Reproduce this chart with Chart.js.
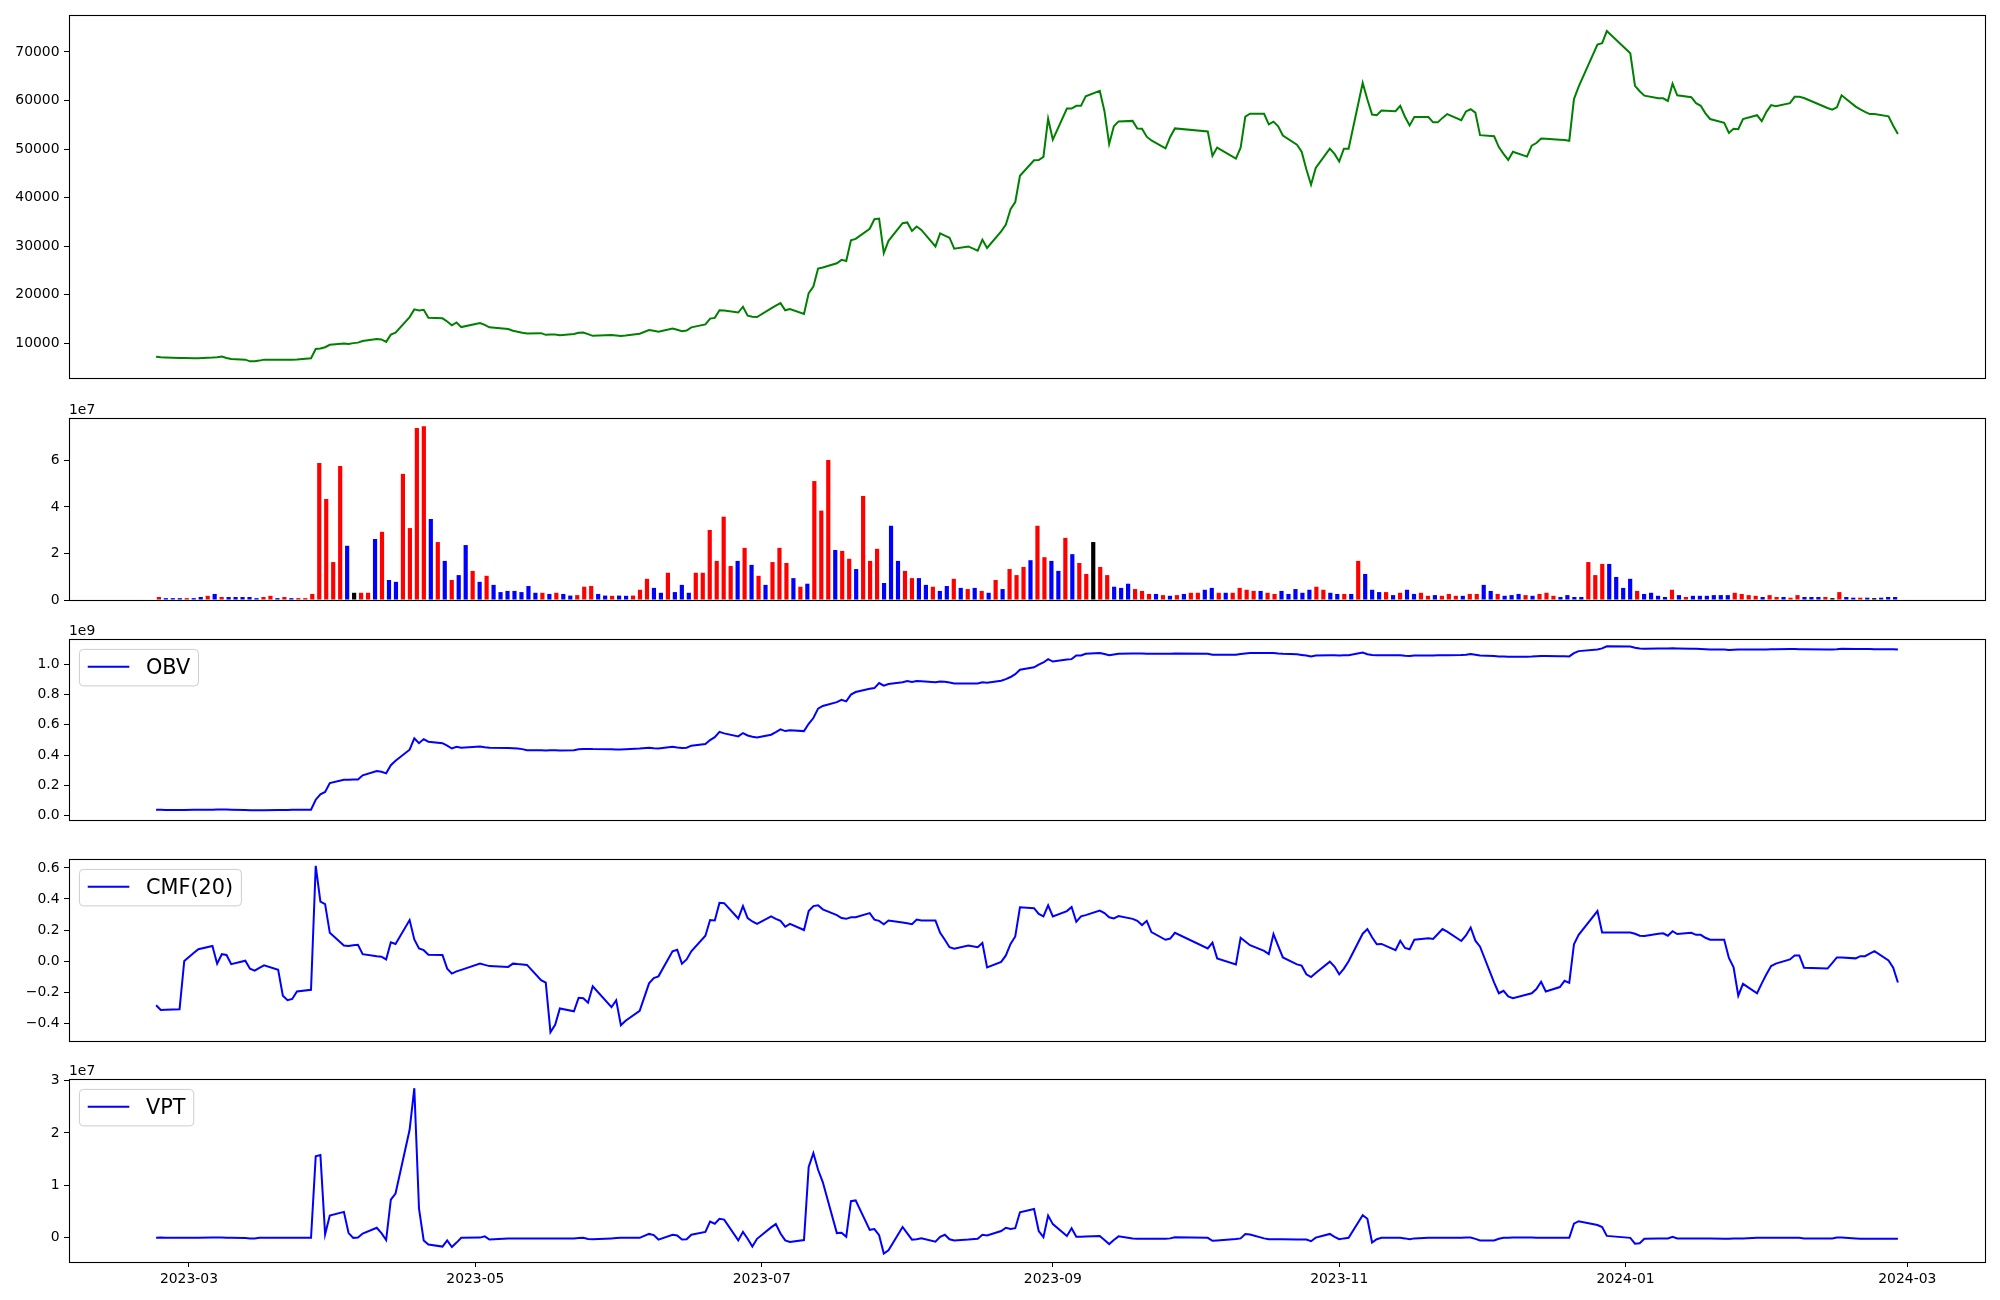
<!DOCTYPE html>
<html>
<head>
<meta charset="utf-8">
<script src="https://cdn.jsdelivr.net/npm/chart.js@4.4.1/dist/chart.umd.min.js"></script>
<style>
  html, body { margin: 0; padding: 0; background: #fff; }
  #wrap { position: relative; width: 2000px; height: 1300px; overflow: hidden; }
  #wrap canvas { position: absolute; left: 0; }
</style>
</head>
<body>
<div id="wrap">
  <canvas id="price"></canvas>
  <canvas id="volume"></canvas>
  <canvas id="obv"></canvas>
  <canvas id="cmf"></canvas>
  <canvas id="vpt"></canvas>
</div>
<script>
// trading days
const dates = [
  '2023-02-22','2023-02-23','2023-02-24','2023-02-27','2023-02-28',
  '2023-03-02','2023-03-03','2023-03-06','2023-03-07','2023-03-08','2023-03-09','2023-03-10','2023-03-13','2023-03-14','2023-03-15','2023-03-16','2023-03-17','2023-03-20','2023-03-21','2023-03-22','2023-03-23','2023-03-24','2023-03-27','2023-03-28','2023-03-29','2023-03-30','2023-03-31',
  '2023-04-03','2023-04-04','2023-04-05','2023-04-06','2023-04-07','2023-04-10','2023-04-11','2023-04-12','2023-04-13','2023-04-14','2023-04-17','2023-04-18','2023-04-19','2023-04-20','2023-04-21','2023-04-24','2023-04-25','2023-04-26','2023-04-27','2023-04-28',
  '2023-05-02','2023-05-03','2023-05-04','2023-05-08','2023-05-09','2023-05-10','2023-05-11','2023-05-12','2023-05-15','2023-05-16','2023-05-17','2023-05-18','2023-05-19','2023-05-22','2023-05-23','2023-05-24','2023-05-25','2023-05-26','2023-05-30','2023-05-31',
  '2023-06-01','2023-06-02','2023-06-05','2023-06-07','2023-06-08','2023-06-09','2023-06-12','2023-06-13','2023-06-14','2023-06-15','2023-06-16','2023-06-19','2023-06-20','2023-06-21','2023-06-22','2023-06-23','2023-06-26','2023-06-27','2023-06-28','2023-06-29','2023-06-30',
  '2023-07-03','2023-07-04','2023-07-05','2023-07-06','2023-07-07','2023-07-10','2023-07-11','2023-07-12','2023-07-13','2023-07-14','2023-07-17','2023-07-18','2023-07-19','2023-07-20','2023-07-21','2023-07-24','2023-07-25','2023-07-26','2023-07-27','2023-07-28','2023-07-31',
  '2023-08-01','2023-08-02','2023-08-03','2023-08-04','2023-08-07','2023-08-08','2023-08-09','2023-08-10','2023-08-11','2023-08-14','2023-08-16','2023-08-17','2023-08-18','2023-08-21','2023-08-22','2023-08-23','2023-08-24','2023-08-25','2023-08-28','2023-08-29','2023-08-30','2023-08-31',
  '2023-09-01','2023-09-04','2023-09-05','2023-09-06','2023-09-07','2023-09-08','2023-09-11','2023-09-12','2023-09-13','2023-09-14','2023-09-15','2023-09-18','2023-09-19','2023-09-20','2023-09-21','2023-09-22','2023-09-25','2023-09-26','2023-09-27',
  '2023-10-04','2023-10-05','2023-10-06','2023-10-10','2023-10-11','2023-10-12','2023-10-13','2023-10-16','2023-10-17','2023-10-18','2023-10-19','2023-10-20','2023-10-23','2023-10-24','2023-10-25','2023-10-26','2023-10-27','2023-10-30','2023-10-31',
  '2023-11-01','2023-11-02','2023-11-03','2023-11-06','2023-11-07','2023-11-08','2023-11-09','2023-11-10','2023-11-13','2023-11-14','2023-11-15','2023-11-16','2023-11-17','2023-11-20','2023-11-21','2023-11-22','2023-11-23','2023-11-24','2023-11-27','2023-11-28','2023-11-29','2023-11-30',
  '2023-12-01','2023-12-04','2023-12-05','2023-12-06','2023-12-07','2023-12-08','2023-12-11','2023-12-12','2023-12-13','2023-12-14','2023-12-15','2023-12-18','2023-12-19','2023-12-20','2023-12-21','2023-12-22','2023-12-26','2023-12-27','2023-12-28',
  '2024-01-02','2024-01-03','2024-01-04','2024-01-05','2024-01-08','2024-01-09','2024-01-10','2024-01-11','2024-01-12','2024-01-15','2024-01-16','2024-01-17','2024-01-18','2024-01-19','2024-01-22','2024-01-23','2024-01-24','2024-01-25','2024-01-26','2024-01-29','2024-01-30','2024-01-31',
  '2024-02-01','2024-02-02','2024-02-05','2024-02-06','2024-02-07','2024-02-08','2024-02-13','2024-02-14','2024-02-15','2024-02-16','2024-02-19','2024-02-20','2024-02-21','2024-02-22','2024-02-23','2024-02-26','2024-02-27','2024-02-28'
];

const close = [
  7230, 7150, 7100, 6990, 6990,
  6920, 6950, 7070, 7150, 7300, 7000, 6800, 6650, 6300, 6300, 6450, 6650, 6650, 6650, 6620, 6650, 6700, 6950, 8850, 8950, 9200, 9700,
  9990, 9850, 10050, 10150, 10500, 10900, 10800, 10300, 11800, 12200, 15400, 17000, 16750, 16900, 15250, 15150, 14500, 13700, 14300, 13350,
  14200, 13800, 13300, 12950, 12600, 12400, 12200, 12050, 12100, 11750, 11800, 11800, 11650, 11950, 12200, 12250, 11900, 11550, 11700, 11600,
  11500, 11600, 12000, 12750, 12600, 12400, 13050, 12800, 12500, 12650, 13300, 13900, 15100, 15250, 16800, 16750, 16350, 17550, 15700, 15500, 15430,
  17200, 17750, 18290, 16800, 17050, 16050, 20350, 21700, 25400, 25620, 26500, 27200, 26950, 31200, 31500, 33600, 35550, 35700, 28600, 31100, 34750,
  34900, 33150, 34050, 33350, 29950, 32650, 32170, 31750, 29500, 29950, 29100, 31350, 29650, 33050, 34450, 37600, 39100, 44500, 47700, 47750, 48400, 56250,
  51950, 58350, 58350, 58900, 58900, 60850, 61990, 57800, 51050, 54700, 55700, 55800, 54250, 54180, 52550, 51780, 50150, 52500, 54250,
  53640, 48600, 50300, 48050, 50300, 56700, 57270, 57270, 55100, 55650, 54700, 52800, 50900, 49450, 45825, 42650, 46130, 50080, 49000,
  47450, 50080, 50080, 63600, 60200, 57100, 56950, 57950, 57800, 58900, 56650, 54870, 56580, 56580, 55500, 55500, 56420, 57200, 55950, 57740, 58200, 57500,
  52860, 52630, 50400, 49000, 47760, 49460, 48450, 50700, 51240, 52170, 52140, 51930, 51850, 51700, 60290, 62840, 71500, 71800, 74290,
  69720, 63000, 61910, 61000, 60440, 60440, 59900, 63460, 61060, 60680, 59440, 58900, 57350, 56190, 55420, 53330, 54180, 54100, 56190, 56960, 55730, 57660,
  59050, 58820, 59440, 60750, 60750, 60520, 58460, 58120, 58590, 61060, 58740, 58170, 57660, 57200, 57200, 56730, 54790, 53100
];

// volume in units of 1e7, bars are drawn at the row index
const volumeE7 = [
  0.13, 0.08, 0.08, 0.08, 0.08,
  0.08, 0.13, 0.18, 0.26, 0.13, 0.13, 0.13, 0.13, 0.13, 0.08, 0.13, 0.18, 0.08, 0.13, 0.08, 0.08, 0.08, 0.26, 5.89, 4.34, 1.63, 5.76,
  2.33, 0.31, 0.31, 0.31, 2.62, 2.93, 0.86, 0.78, 5.42, 3.09, 7.39, 7.47, 3.48, 2.49, 1.68, 0.86, 1.07, 2.36, 1.25, 0.78,
  1.04, 0.65, 0.34, 0.39, 0.39, 0.34, 0.60, 0.31, 0.31, 0.26, 0.31, 0.26, 0.19, 0.21, 0.57, 0.60, 0.26, 0.19, 0.18, 0.19,
  0.18, 0.19, 0.44, 0.91, 0.52, 0.31, 1.17, 0.34, 0.65, 0.31, 1.17, 1.17, 3.01, 1.68, 3.58, 1.46, 1.68, 2.24, 1.51, 1.04, 0.65,
  1.63, 2.24, 1.59, 0.94, 0.57, 0.70, 5.11, 3.84, 6.02, 2.15, 2.11, 1.77, 1.33, 4.47, 1.68, 2.20, 0.73, 3.19, 1.68, 1.25, 0.94,
  0.94, 0.65, 0.57, 0.39, 0.60, 0.91, 0.52, 0.47, 0.52, 0.39, 0.31, 0.86, 0.47, 1.33, 1.07, 1.42, 1.71, 3.19, 1.84, 1.68, 1.25, 2.67,
  1.97, 1.59, 1.12, 2.49, 1.42, 1.07, 0.57, 0.52, 0.70, 0.47, 0.39, 0.26, 0.26, 0.21, 0.18, 0.21, 0.26, 0.31, 0.31,
  0.44, 0.52, 0.31, 0.31, 0.31, 0.52, 0.44, 0.39, 0.39, 0.31, 0.26, 0.39, 0.26, 0.47, 0.31, 0.44, 0.57, 0.44, 0.31,
  0.26, 0.26, 0.26, 1.68, 1.12, 0.44, 0.34, 0.34, 0.21, 0.31, 0.44, 0.26, 0.31, 0.18, 0.21, 0.18, 0.26, 0.18, 0.18, 0.26, 0.26, 0.65,
  0.39, 0.26, 0.18, 0.21, 0.26, 0.21, 0.18, 0.26, 0.31, 0.18, 0.13, 0.21, 0.13, 0.13, 1.63, 1.07, 1.55, 1.55, 0.99,
  0.52, 0.91, 0.39, 0.26, 0.31, 0.18, 0.13, 0.44, 0.21, 0.13, 0.18, 0.18, 0.18, 0.21, 0.21, 0.21, 0.31, 0.26, 0.21, 0.18, 0.13, 0.21,
  0.13, 0.13, 0.10, 0.21, 0.13, 0.13, 0.13, 0.13, 0.08, 0.34, 0.13, 0.10, 0.10, 0.10, 0.08, 0.10, 0.13, 0.13
];

// r = up, b = down, k = unchanged
const volumeColor = [
  'r','b','b','b','r',
  'b','b','r','b','r','b','b','b','b','b','r','r','b','r','b','r','r','r','r','r','r','r',
  'b','k','r','r','b','r','b','b','r','r','r','r','b','r','b','r','b','b','r','b',
  'r','b','b','b','b','b','b','b','r','b','r','b','b','r','r','r','b','b','r','b',
  'b','r','r','r','b','b','r','b','b','b','r','r','r','r','r','r','b','r','b','r','b',
  'r','r','r','b','r','b','r','r','r','b','r','r','b','r','r','r','b','b','b','r','r',
  'b','b','r','b','b','r','b','r','b','r','b','r','b','r','r','r','b','r','r','b','b','r',
  'b','r','r','k','r','r','b','b','b','r','r','r','b','r','b','r','b','r','r',
  'b','b','r','b','r','r','r','r','b','r','r','b','b','b','b','b','r','r','b',
  'b','r','b','r','b','b','b','r','b','r','b','b','r','r','b','r','r','r','b','r','r','b',
  'b','r','b','b','b','r','b','r','r','r','b','b','b','b','r','r','r','b','b',
  'b','b','r','b','b','b','b','r','b','r','b','b','b','b','b','b','r','r','r','r','b','r',
  'r','b','r','r','b','b','b','r','k','r','b','b','r','b','k','b','b','b'
];

// OBV in units of 1e9
const obvE9 = [
  0.039, 0.039, 0.038, 0.038, 0.038,
  0.039, 0.039, 0.040, 0.041, 0.042, 0.041, 0.040, 0.038, 0.037, 0.036, 0.037, 0.037, 0.038, 0.038, 0.038, 0.039, 0.039, 0.040, 0.106, 0.141, 0.157, 0.216,
  0.237, 0.238, 0.239, 0.240, 0.267, 0.296, 0.290, 0.280, 0.334, 0.363, 0.436, 0.511, 0.479, 0.506, 0.489, 0.479, 0.463, 0.444, 0.455, 0.449,
  0.457, 0.452, 0.449, 0.447, 0.446, 0.444, 0.440, 0.432, 0.432, 0.431, 0.432, 0.432, 0.431, 0.433, 0.439, 0.441, 0.441, 0.440, 0.439, 0.438,
  0.438, 0.439, 0.444, 0.449, 0.446, 0.444, 0.455, 0.450, 0.447, 0.449, 0.463, 0.473, 0.500, 0.519, 0.554, 0.544, 0.524, 0.546, 0.530, 0.522, 0.516,
  0.535, 0.552, 0.570, 0.559, 0.565, 0.559, 0.607, 0.645, 0.707, 0.725, 0.750, 0.766, 0.755, 0.800, 0.817, 0.838, 0.843, 0.876, 0.859, 0.870, 0.881,
  0.889, 0.884, 0.889, 0.888, 0.881, 0.886, 0.884, 0.880, 0.873, 0.874, 0.873, 0.881, 0.878, 0.892, 0.902, 0.916, 0.935, 0.964, 0.980, 0.998, 1.012, 1.034,
  1.018, 1.031, 1.034, 1.058, 1.058, 1.069, 1.074, 1.068, 1.060, 1.065, 1.069, 1.071, 1.071, 1.071, 1.070, 1.070, 1.069, 1.070, 1.071,
  1.069, 1.063, 1.063, 1.063, 1.068, 1.072, 1.074, 1.074, 1.074, 1.074, 1.071, 1.069, 1.066, 1.062, 1.058, 1.052, 1.058, 1.060, 1.060,
  1.058, 1.060, 1.060, 1.077, 1.066, 1.062, 1.060, 1.060, 1.060, 1.060, 1.057, 1.055, 1.058, 1.058, 1.058, 1.059, 1.059, 1.060, 1.061, 1.063, 1.068, 1.063,
  1.058, 1.055, 1.052, 1.051, 1.050, 1.050, 1.050, 1.051, 1.053, 1.055, 1.054, 1.053, 1.053, 1.052, 1.074, 1.087, 1.098, 1.105, 1.119,
  1.117, 1.109, 1.105, 1.103, 1.104, 1.105, 1.104, 1.106, 1.105, 1.103, 1.102, 1.101, 1.100, 1.098, 1.097, 1.095, 1.096, 1.097, 1.098, 1.098, 1.097, 1.098,
  1.099, 1.099, 1.101, 1.101, 1.100, 1.100, 1.098, 1.098, 1.100, 1.103, 1.101, 1.101, 1.101, 1.101, 1.100, 1.100, 1.099, 1.098
];

const cmf20 = [
  -0.285, -0.316, -0.315, -0.311, 0.000,
  0.052, 0.076, 0.097, -0.017, 0.044, 0.039, -0.020, 0.002, -0.050, -0.062, -0.045, -0.028, -0.057, -0.224, -0.253, -0.245, -0.197, -0.186, 0.614, 0.383, 0.367, 0.182,
  0.100, 0.097, 0.102, 0.105, 0.044, 0.031, 0.028, 0.010, 0.121, 0.110, 0.264, 0.139, 0.081, 0.070, 0.041, 0.039, -0.049, -0.081, -0.067, -0.057,
  -0.017, -0.025, -0.033, -0.038, -0.017, -0.020, -0.022, -0.025, -0.123, -0.139, -0.459, -0.412, -0.306, -0.324, -0.237, -0.240, -0.269, -0.163, -0.298, -0.253,
  -0.414, -0.385, -0.322, -0.144, -0.110, -0.099, 0.063, 0.073, -0.017, 0.010, 0.063, 0.163, 0.264, 0.261, 0.375, 0.373, 0.274, 0.354, 0.277, 0.255, 0.240,
  0.288, 0.272, 0.259, 0.221, 0.240, 0.200, 0.322, 0.354, 0.359, 0.333, 0.296, 0.277, 0.272, 0.282, 0.282, 0.309, 0.267, 0.259, 0.237, 0.261, 0.248,
  0.243, 0.237, 0.267, 0.261, 0.261, 0.182, 0.137, 0.089, 0.079, 0.100, 0.089, 0.116, -0.041, -0.006, 0.036, 0.110, 0.158, 0.346, 0.341, 0.304, 0.288, 0.359,
  0.288, 0.322, 0.349, 0.253, 0.288, 0.296, 0.325, 0.309, 0.282, 0.275, 0.290, 0.272, 0.259, 0.232, 0.259, 0.187, 0.137, 0.145, 0.182,
  0.081, 0.118, 0.017, -0.022, 0.150, 0.126, 0.102, 0.065, 0.044, 0.174, 0.097, 0.023, -0.022, -0.030, -0.086, -0.104, -0.078, -0.004, -0.036,
  -0.086, -0.049, -0.001, 0.176, 0.206, 0.153, 0.108, 0.110, 0.070, 0.131, 0.084, 0.076, 0.137, 0.147, 0.142, 0.174, 0.206, 0.190, 0.129, 0.165, 0.216, 0.131,
  0.092, -0.139, -0.208, -0.192, -0.229, -0.240, -0.216, -0.208, -0.181, -0.134, -0.197, -0.168, -0.128, -0.141, 0.108, 0.169, 0.322, 0.184, 0.184,
  0.184, 0.176, 0.163, 0.161, 0.176, 0.179, 0.163, 0.192, 0.174, 0.182, 0.169, 0.169, 0.150, 0.137, 0.137, 0.020, -0.041, -0.224, -0.147, -0.208, -0.144, -0.086,
  -0.033, -0.017, 0.010, 0.036, 0.036, -0.043, -0.049, -0.014, 0.023, 0.023, 0.017, 0.031, 0.031, 0.047, 0.063, 0.004, -0.043, -0.139
];

// VPT in units of 1e7
const vptE7 = [
  0.000, 0.005, 0.000, 0.000, 0.000,
  0.000, 0.000, 0.005, 0.005, 0.005, 0.000, 0.000, -0.005, -0.010, -0.010, 0.000, 0.000, 0.000, 0.000, 0.000, 0.000, 0.000, 0.000, 1.553, 1.577, 0.067, 0.425,
  0.495, 0.091, 0.000, 0.005, 0.083, 0.192, 0.091, -0.041, 0.729, 0.845, 2.059, 2.852, 0.558, -0.049, -0.127, -0.166, -0.049, -0.174, -0.090, 0.000,
  0.005, 0.029, -0.033, -0.010, -0.010, -0.010, -0.010, -0.010, -0.010, -0.010, -0.010, -0.010, -0.010, -0.010, -0.005, 0.000, -0.020, -0.026, -0.010, -0.005,
  0.000, 0.000, 0.000, 0.075, 0.052, -0.033, 0.060, 0.044, -0.033, -0.026, 0.060, 0.114, 0.309, 0.270, 0.363, 0.348, -0.049, 0.114, -0.018, -0.166, -0.018,
  0.199, 0.262, 0.083, -0.049, -0.080, -0.041, 1.351, 1.615, 1.297, 1.064, 0.091, 0.099, 0.021, 0.698, 0.713, 0.153, 0.168, 0.052, -0.298, -0.236, 0.207,
  0.085, -0.033, -0.025, -0.010, -0.072, 0.021, 0.060, -0.026, -0.049, -0.033, -0.018, 0.060, 0.044, 0.130, 0.192, 0.168, 0.184, 0.487, 0.549, 0.130, 0.013, 0.425,
  0.262, 0.037, 0.184, 0.021, 0.021, 0.025, 0.037, -0.040, -0.119, -0.040, 0.029, -0.010, -0.018, -0.018, -0.018, -0.018, -0.018, -0.010, 0.013,
  0.000, -0.057, -0.050, -0.020, -0.010, 0.075, 0.065, -0.010, -0.026, -0.026, -0.026, -0.026, -0.030, -0.030, -0.033, -0.064, 0.005, 0.075, 0.020,
  -0.026, -0.010, 0.000, 0.433, 0.363, -0.088, -0.026, 0.000, 0.000, 0.000, -0.010, -0.026, -0.010, 0.000, 0.000, 0.000, 0.000, 0.000, 0.000, 0.005, 0.005, -0.020,
  -0.049, -0.049, -0.018, 0.000, 0.000, 0.005, 0.005, 0.005, 0.000, 0.000, 0.000, 0.000, 0.000, 0.000, 0.270, 0.317, 0.245, 0.207, 0.037,
  0.000, -0.111, -0.103, -0.018, -0.010, -0.010, -0.010, 0.021, -0.010, -0.010, -0.010, -0.010, -0.010, -0.010, -0.018, -0.018, -0.010, -0.010, -0.010, 0.000, 0.000, 0.000,
  0.000, 0.000, 0.000, 0.000, 0.000, -0.010, -0.010, -0.010, 0.005, 0.005, -0.010, -0.018, -0.018, -0.018, -0.018, -0.018, -0.018, -0.018
];

const monthTicks = ['2023-03', '2023-05', '2023-07', '2023-09', '2023-11', '2024-01', '2024-03'];

const priceTicks = [10000, 20000, 30000, 40000, 50000, 60000, 70000];
const volumeTicks = [0, 2, 4, 6];
const obvTicks = [0, 0.2, 0.4, 0.6, 0.8, 1.0];
const cmfTicks = [-0.4, -0.2, 0, 0.2, 0.4, 0.6];
const vptTicks = [0, 1, 2, 3];

// ---------------------------------------------------------------

const DAY0 = Date.UTC(2023, 2, 1);
const dayOf = s => (Date.parse(s + 'T00:00:00Z') - DAY0) / 86400000;
const days = dates.map(dayOf);
const tickDays = monthTicks.map(m => dayOf(m + '-01'));

const FONT = { family: 'DejaVu Sans', size: 13.9 };
const BAR_COLORS = { r: '#ff0000', b: '#0000ff', k: '#000000' };

const mplPlugin = {
    id: 'mpl',
    afterDraw(chart, args, opts) {
        const { ctx, chartArea: a } = chart;
        ctx.save();
        // axes box
        ctx.strokeStyle = '#000';
        ctx.lineWidth = 1.1;
        ctx.strokeRect(Math.round(a.left) + 0.5, Math.round(a.top) + 0.5,
            Math.round(a.right - a.left), Math.round(a.bottom - a.top));
        // offset text (1e7 / 1e9)
        if (opts.offset) {
            ctx.fillStyle = '#000';
            ctx.font = '13.9px "DejaVu Sans"';
            ctx.textAlign = 'left';
            ctx.textBaseline = 'alphabetic';
            ctx.fillText(opts.offset, a.left, a.top - 4);
        }
        // legend box
        if (opts.legend) {
            const f = 20.8;
            ctx.font = f + 'px "DejaVu Sans"';
            const tw = ctx.measureText(opts.legend).width;
            const bx = a.left + 0.5 * f, by = a.top + 0.5 * f;
            const bw = 3.6 * f + tw, bh = 36.5;
            const r = 4;
            ctx.beginPath();
            ctx.moveTo(bx + r, by);
            ctx.arcTo(bx + bw, by, bx + bw, by + bh, r);
            ctx.arcTo(bx + bw, by + bh, bx, by + bh, r);
            ctx.arcTo(bx, by + bh, bx, by, r);
            ctx.arcTo(bx, by, bx + bw, by, r);
            ctx.closePath();
            ctx.fillStyle = 'rgba(255,255,255,0.8)';
            ctx.fill();
            ctx.strokeStyle = '#cccccc';
            ctx.lineWidth = 1;
            ctx.stroke();
            const cy = by + bh / 2;
            ctx.beginPath();
            ctx.moveTo(bx + 0.4 * f, cy - 1);
            ctx.lineTo(bx + 2.4 * f, cy - 1);
            ctx.strokeStyle = '#0000ff';
            ctx.lineWidth = 2;
            ctx.stroke();
            ctx.fillStyle = '#000';
            ctx.textAlign = 'left';
            ctx.textBaseline = 'middle';
            ctx.fillText(opts.legend, bx + 3.2 * f, cy + 1);
        }
        ctx.restore();
    }
};

function yAxis(min, max, ticks, fmt) {
    return {
        min: min,
        max: max,
        afterFit: s => { s.width = 69; },
        afterBuildTicks: s => { s.ticks = ticks.map(v => ({ value: v })); },
        ticks: { callback: fmt, font: FONT, color: '#000', padding: 4.5, autoSkip: false },
        grid: { display: true, drawOnChartArea: false, drawTicks: true, tickLength: 5, color: '#000', lineWidth: 1 },
        border: { display: false }
    };
}

const hiddenX = (min, max) => ({ type: 'linear', min: min, max: max, display: false, offset: false });

function lineSet(values, color) {
    return {
        type: 'line',
        data: values.map((v, i) => ({ x: days[i], y: v })),
        borderColor: color,
        borderWidth: 2,
        pointRadius: 0,
        fill: false,
        tension: 0
    };
}

function panel(id, top, height, padTop, padBottom, datasets, scales, mpl) {
    const cv = document.getElementById(id);
    cv.width = 2000;
    cv.height = height;
    cv.style.width = '2000px';
    cv.style.height = height + 'px';
    cv.style.top = top + 'px';
    return new Chart(cv, {
        type: 'line',
        data: { datasets: datasets },
        options: {
            responsive: false,
            animation: false,
            devicePixelRatio: 1,
            events: [],
            layout: { padding: { top: padTop, bottom: padBottom, left: 0, right: 15 } },
            scales: scales,
            plugins: { legend: { display: false }, tooltip: { enabled: false }, mpl: mpl }
        },
        plugins: [mplPlugin]
    });
}

const X_MIN = -25.55, X_MAX = 382.55;
const minus = s => s.replace('-', '\u2212');

// bottom padding is kept above the y labels' own half-height padding (~13px)

// price: 15..378
panel('price', 0, 392, 15, 14,
    [lineSet(close, '#008000')],
    { x: hiddenX(X_MIN, X_MAX), y: yAxis(2870, 77600, priceTicks, v => String(v)) },
    {});

// volume: 418..600
panel('volume', 392, 222, 26, 14,
    [{
        type: 'bar',
        data: volumeE7.map((v, i) => ({ x: i, y: v })),
        backgroundColor: volumeColor.map(c => BAR_COLORS[c]),
        borderWidth: 0,
        barPercentage: 0.6,
        categoryPercentage: 1.0
    }],
    { x: hiddenX(-12.89, 261.89), y: yAxis(0, 7.82, volumeTicks, v => String(v)) },
    { offset: '1e7' });

// obv: 639..820
panel('obv', 614, 220, 25, 14,
    [lineSet(obvE9, '#0000ff')],
    { x: hiddenX(X_MIN, X_MAX), y: yAxis(-0.028, 1.167, obvTicks, v => v.toFixed(1)) },
    { offset: '1e9', legend: 'OBV' });

// cmf: 859..1041
panel('cmf', 834, 221, 25, 14,
    [lineSet(cmf20, '#0000ff')],
    { x: hiddenX(X_MIN, X_MAX), y: yAxis(-0.516, 0.658, cmfTicks, v => minus(v.toFixed(1))) },
    { legend: 'CMF(20)' });

// vpt: 1079..1261, date axis below
panel('vpt', 1055, 245, 24, 0,
    [lineSet(vptE7, '#0000ff')],
    {
        x: {
            type: 'linear', min: X_MIN, max: X_MAX, offset: false,
            afterFit: s => { s.height = 38; },
            afterBuildTicks: s => { s.ticks = tickDays.map(v => ({ value: v })); },
            ticks: { callback: (v, i) => monthTicks[i], font: FONT, color: '#000', padding: 4.5, autoSkip: false, maxRotation: 0 },
            grid: { display: true, drawOnChartArea: false, drawTicks: true, tickLength: 5, color: '#000', lineWidth: 1 },
            border: { display: false }
        },
        y: yAxis(-0.46, 3.027, vptTicks, v => String(v))
    },
    { offset: '1e7', legend: 'VPT' });
</script>
</body>
</html>
